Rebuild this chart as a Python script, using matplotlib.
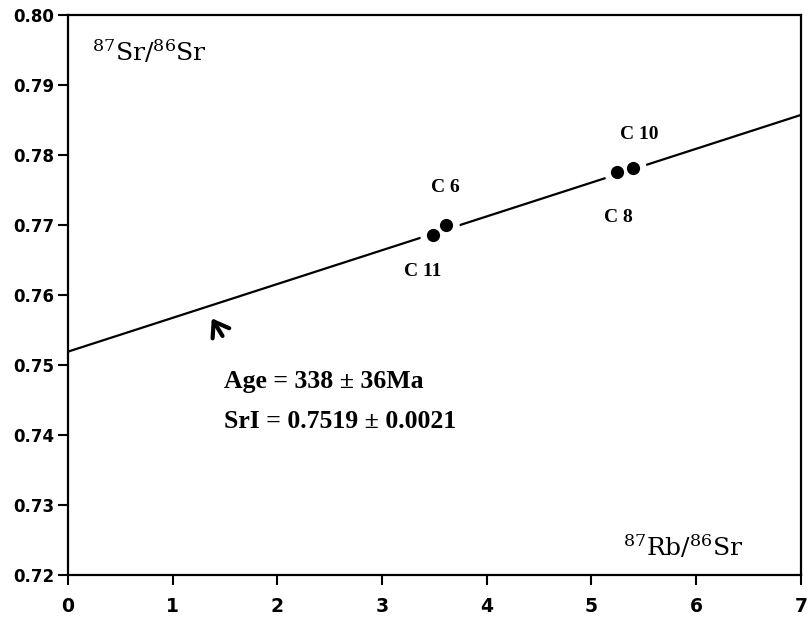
import matplotlib
matplotlib.use("Agg")
from matplotlib import pyplot as plt

# Rb-Sr isochron data
sample_names = ["C 11", "C 6", "C 8", "C 10"]
rb_sr = [3.49, 3.61, 5.24, 5.40]
sr_sr = [0.7686, 0.7700, 0.7775, 0.7781]

# isochron line end points
line_x = [0.0, 7.0]
line_y = [0.7519, 0.7857]

x_ticks = [0, 1, 2, 3, 4, 5, 6, 7]
y_ticks = [0.72, 0.73, 0.74, 0.75, 0.76, 0.77, 0.78, 0.79, 0.80]

plt.rcParams['mathtext.fontset'] = 'dejavuserif'

fig = plt.figure(figsize=(8.09, 6.17), dpi=100)
ax = fig.add_axes([0.084, 0.068, 0.906, 0.908])

ax.plot(line_x, line_y, color='k', lw=1.6, zorder=2)
# white halo leaves a gap in the line around the points
ax.plot(rb_sr, sr_sr, 'o', ms=19, color='white', mec='none', zorder=3)
ax.plot(rb_sr, sr_sr, 'o', ms=9.5, color='k', mec='none', zorder=4)

label_pos = [(3.387, 0.7633), (3.605, 0.7753), (5.256, 0.7711), (5.455, 0.7829)]
for name, (lx, ly) in zip(sample_names, label_pos):
    ax.text(lx, ly, name, family='Liberation Serif', weight='bold', fontsize=14,
            ha='center', va='center')

ax.annotate('', xy=(1.36, 0.7570), xytext=(1.49, 0.7538),
            arrowprops=dict(arrowstyle='->,head_length=0.5,head_width=0.35',
                            lw=3, color='k', mutation_scale=20))

ax.text(1.49, 0.7476, "Age = 338 \u00b1 36Ma", family='Liberation Serif', weight='bold',
        fontsize=18.5, ha='left', va='center')
ax.text(1.49, 0.7419, "SrI = 0.7519 \u00b1 0.0021", family='Liberation Serif', weight='bold',
        fontsize=18.5, ha='left', va='center')

ax.text(0.23, 0.7946, r"$^{87}$Sr/$^{86}$Sr", family='DejaVu Serif', fontsize=18,
        ha='left', va='center')
ax.text(5.3, 0.7240, r"$^{87}$Rb/$^{86}$Sr", family='DejaVu Serif', fontsize=18,
        ha='left', va='center')

ax.set_xlim(0, 7)
ax.set_ylim(0.72, 0.80)
ax.set_xticks(x_ticks)
ax.set_yticks(y_ticks)
ax.set_yticklabels([f"{v:.2f}" for v in y_ticks], family='DejaVu Sans',
                   weight='bold', fontsize=12)
ax.set_xticklabels([str(v) for v in x_ticks], family='DejaVu Sans',
                   weight='bold', fontsize=13.5)
ax.tick_params(axis='y', direction='out', length=7, width=1.5, pad=3)
ax.tick_params(axis='x', direction='out', length=7, width=1.5, pad=9)
for s in ax.spines.values():
    s.set_linewidth(1.6)

fig.savefig("out.png", dpi=100)
